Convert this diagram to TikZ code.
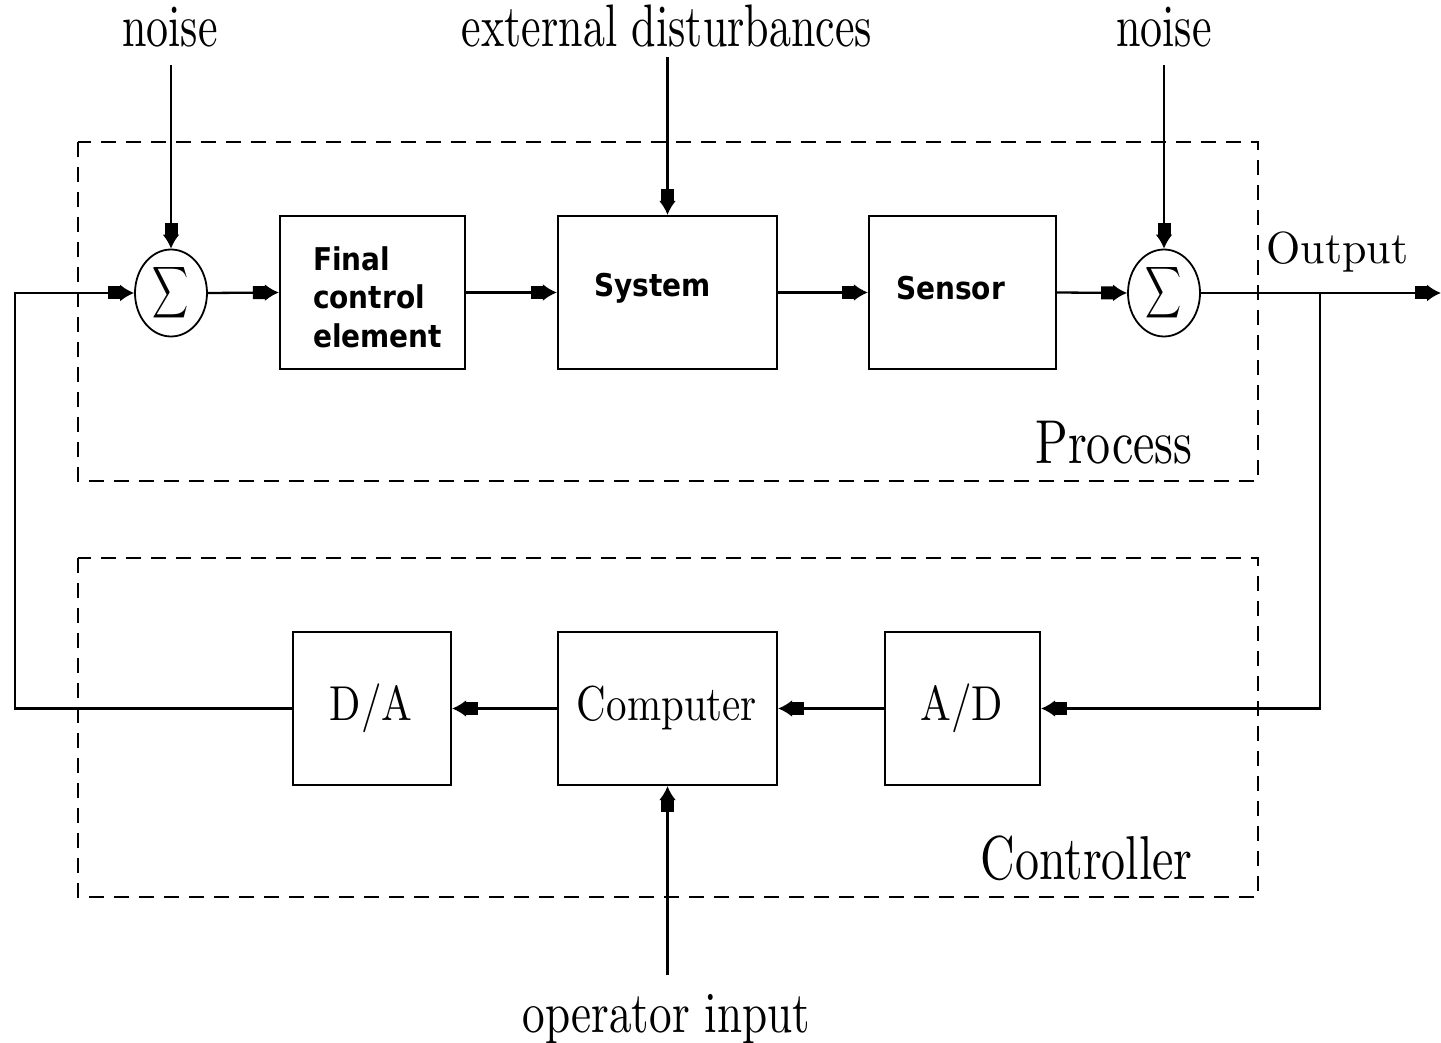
\documentclass[tikz,border=0pt]{standalone}
\usepackage{fontspec}
\newfontfamily\labelsans{DejaVu Sans}
\usetikzlibrary{arrows.meta,shapes.geometric}

\begin{document}
\begin{tikzpicture}[x=0.5pt,y=-0.5pt,
  line width=1.15pt,
  blk/.style={draw, rectangle, inner sep=0pt, minimum height=76.5pt},
  sumnode/.style={draw, ellipse, inner sep=0pt, minimum width=36pt, minimum height=43.5pt, line width=0.9pt},
  sumsym/.style={inner sep=0pt, xscale=1.25, yscale=1.8},
  toplbl/.style={inner sep=0pt, anchor=base, xscale=2.2, yscale=3.0},
  boxlbl/.style={inner sep=0pt, anchor=base, xscale=2.05, yscale=2.45},
  grplbl/.style={inner sep=0pt, anchor=base, xscale=2.4, yscale=3.1},
  boldlbl/.style={inner sep=0pt, anchor=west, yscale=1.12, font=\labelsans\bfseries\fontsize{14}{17.2}\selectfont, align=left},
  grp/.style={draw, dash pattern=on 7.5pt off 5pt, line width=1.1pt},
  arr/.style={-{Rectangle[length=6pt,width=6.5pt,sep=0pt]Latex[length=7pt,width=8.5pt]}},
]
\useasboundingbox (0,0) rectangle (1441,1043);

% process and controller groups
\draw[grp] (78,142) rectangle (1258,481);
\draw[grp] (78,558) rectangle (1258,897);

% summing junctions
\node[sumnode] (s1) at (171,293) {};
\node[sumsym] (s1sym) at (s1.center) {$\displaystyle\sum$};
\node[sumnode] (s2) at (1164,293) {};
\node[sumsym] (s2sym) at (s2.center) {$\displaystyle\sum$};

% process blocks
\node[blk, minimum width=92.5pt] (fce) at (372.5,292.5) {};
\node[boldlbl] (fcet) at (312,297) {Final\\control\\element};
\node[blk, minimum width=109.5pt] (sys) at (667.5,292.5) {};
\node[boldlbl] (syst) at (593,288) {System};
\node[blk, minimum width=93.5pt] (sen) at (962.5,292.5) {};
\node[boldlbl] (sent) at (895,288) {Sensor};

% controller blocks
\node[blk, minimum width=79pt] (da) at (372,708.5) {};
\node[boxlbl] (dat) at (371,720) {D/A};
\node[blk, minimum width=109.5pt] (comp) at (667.5,708.5) {};
\node[boxlbl] (compt) at (667,720) {Computer};
\node[blk, minimum width=77.5pt] (ad) at (962.5,708.5) {};
\node[boxlbl] (adt) at (962,720) {A/D};

% signal labels
\node[toplbl] (noise1) at (170,47) {noise};
\node[toplbl] (ext) at (667,47) {external disturbances};
\node[toplbl] (noise2) at (1164,47) {noise};
\node[inner sep=0pt, anchor=base, xscale=2.2, yscale=2.25] (outl) at (1337.5,264) {Output};
\node[grplbl] (procl) at (1114,463) {Process};
\node[grplbl] (ctrll) at (1086.5,879) {Controller};
\node[inner sep=0pt, anchor=base, xscale=2.26, yscale=2.9] (opl) at (666.5,1032) {operator input};

% free ends of connectors
\coordinate (n1) at (171,65);
\coordinate (ed) at (667.5,57);
\coordinate (n2) at (1164,65);
\coordinate (out) at (1441,293);
\coordinate (br) at (1320,293);
\coordinate (fb) at (15,708.5);
\coordinate (op) at (667.5,975);

% forward path
\draw[arr] (n1) -- (s1.north);
\draw[arr] (s1.east) -- (fce.west);
\draw[arr] (fce.east) -- (sys.west);
\draw[arr] (ed) -- (sys.north);
\draw[arr] (sys.east) -- (sen.west);
\draw[arr] (sen.east) -- (s2.west);
\draw[arr] (n2) -- (s2.north);
\draw[arr] (s2.east) -- (out);

% feedback path
\draw[arr] (br) |- (ad.east);
\draw[arr] (ad.west) -- (comp.east);
\draw[arr] (comp.west) -- (da.east);
\draw[arr] (op) -- (comp.south);
\draw[arr] (da.west) -- (fb) |- (s1.west);
\end{tikzpicture}
\end{document}
